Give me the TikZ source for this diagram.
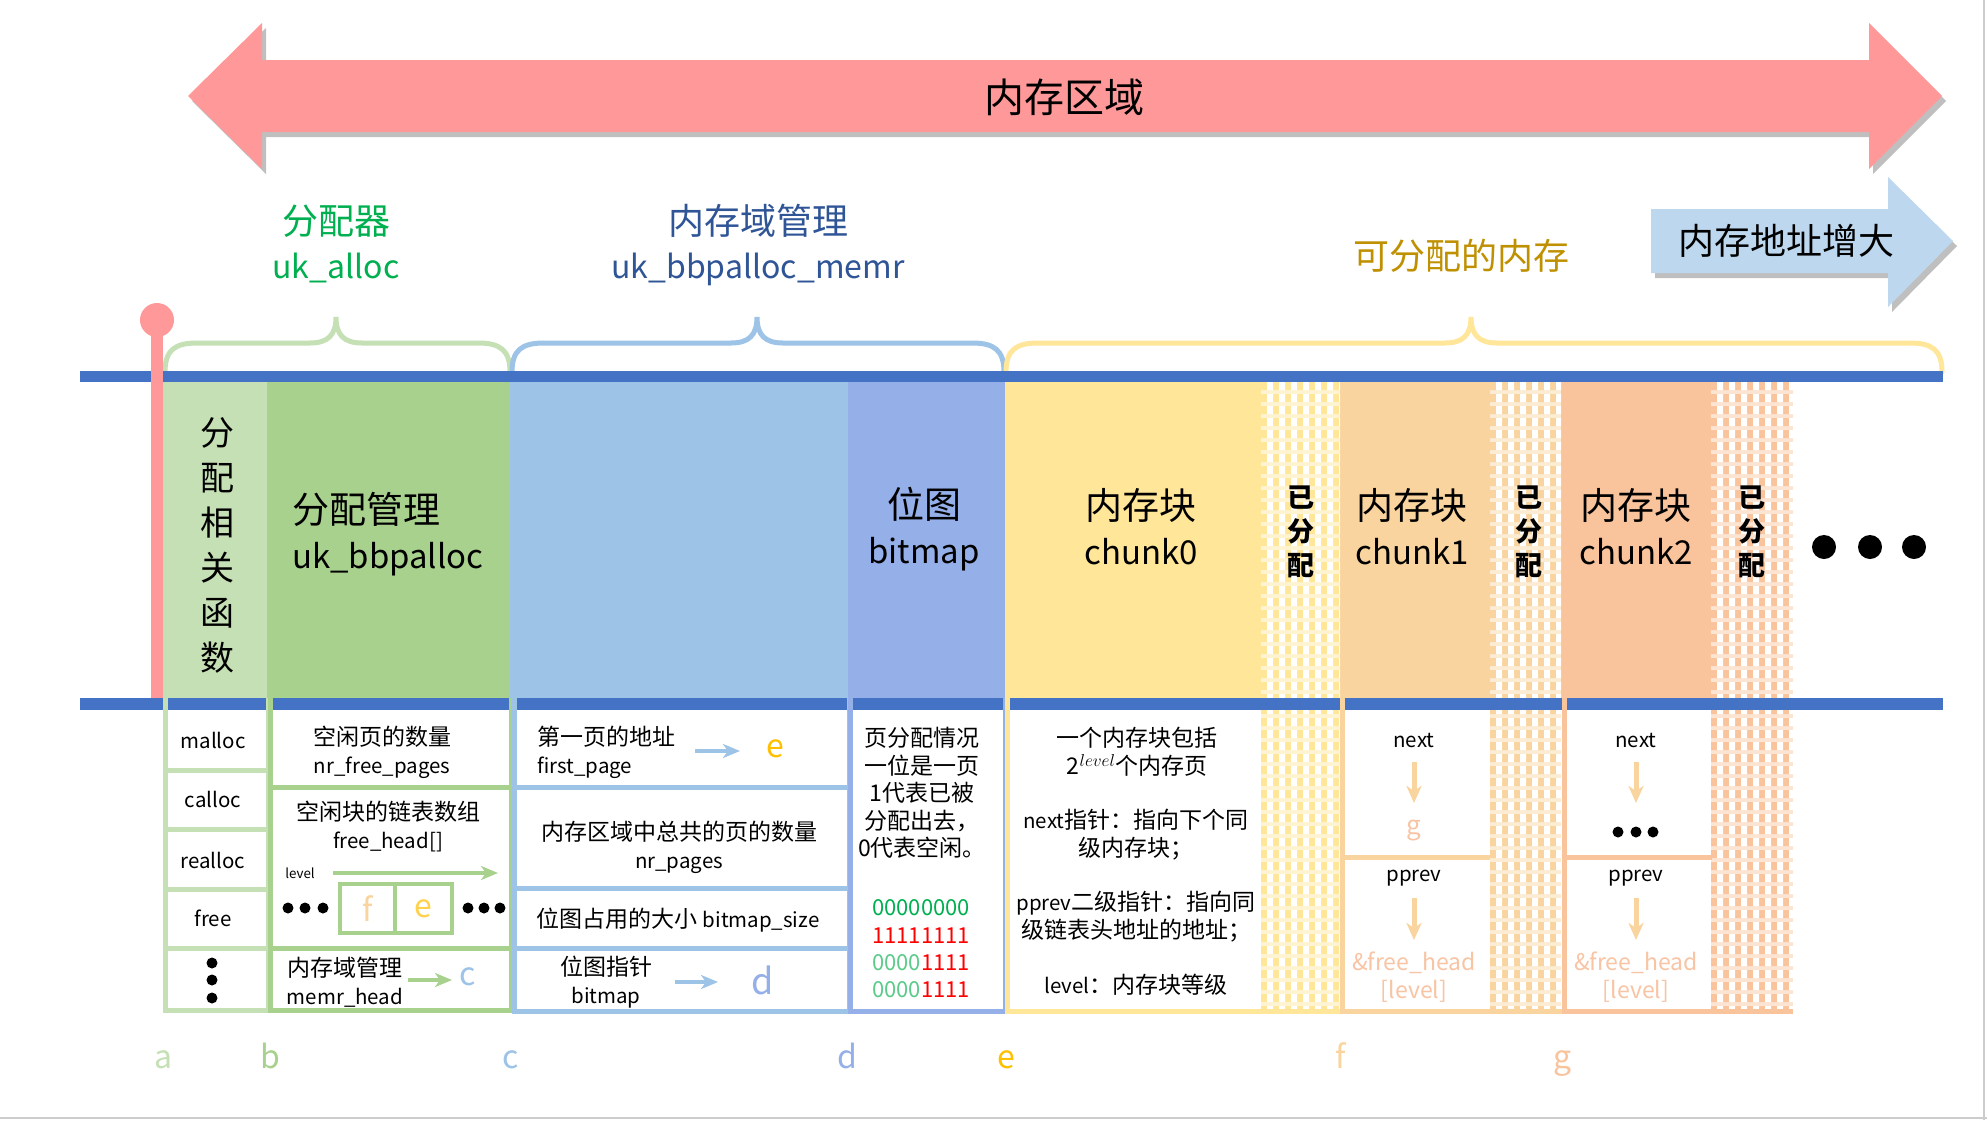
\documentclass[tikz,border=0pt]{standalone}
\usepackage{fontspec}
\setmainfont{Noto Sans CJK SC}
\newfontfamily\latfont[Scale=0.89]{Noto Sans CJK SC}
\newcommand{\latn}[1]{{\latfont #1}}
\usetikzlibrary{arrows.meta,shadows}
\definecolor{cA}{HTML}{C5E0B4}
\definecolor{cB}{HTML}{A9D18E}
\definecolor{cC}{HTML}{9DC3E6}
\definecolor{cD}{HTML}{95AFE8}
\definecolor{cE}{HTML}{FFE699}
\definecolor{cF}{HTML}{F9D49E}
\definecolor{cG}{HTML}{F9C39C}
\definecolor{barblue}{HTML}{4472C4}
\definecolor{pinkarrow}{HTML}{FF9999}
\definecolor{lblue}{HTML}{BDD7EE}
\definecolor{tgreen}{HTML}{00B050}
\definecolor{tblue}{HTML}{2F5597}
\definecolor{tgold}{HTML}{BF9000}
\definecolor{eyellow}{HTML}{FFC000}
\definecolor{boxe}{HTML}{FFD24D}
\definecolor{salmontext}{HTML}{F8C4A4}
\definecolor{bgreen}{HTML}{5BCB8A}
\newcommand{\checkstrip}[5]{%
  \begin{scope}
    \clip (#1,#3) rectangle (#2,#4);
    \fill[#5!45] (#1,#3) rectangle (#2,#4);
    \fill[#5] \foreach \i in {0,...,7}{\foreach \j in {0,...,53}{ ({#1+12*\i},{#3+12*\j}) rectangle ++(6,8) }};
    \fill[white] \foreach \i in {0,...,7}{\foreach \j in {0,...,53}{ ({#1+12*\i+6},{#3+12*\j}) rectangle ++(6,8) }};
  \end{scope}}
\begin{document}
\begin{tikzpicture}[x=1pt,y=-1pt,
  txt/.style={inner sep=0pt, align=center, font=\fontsize{23}{28}\selectfont},
  bigtxt/.style={inner sep=0pt, align=center, font=\fontsize{37}{45}\selectfont},
  vtxt/.style={inner sep=0pt, align=center, font=\fontsize{27}{34}\selectfont\bfseries},
  ltr/.style={inner sep=0pt, font=\fontsize{32}{38}\selectfont},
  garr/.style={draw=cB, line width=4, -{Stealth[length=17pt,width=14pt,inset=5pt]}},
  barr/.style={draw=cC, line width=4, -{Stealth[length=17pt,width=14pt,inset=5pt]}},
  oarr/.style={draw=cF, line width=5, -{Stealth[length=17pt,width=15pt,inset=5pt]}},
  brace/.style={line width=5, line cap=round},
  edge5/.style={line width=5},
  shad/.style={drop shadow={shadow xshift=4pt, shadow yshift=-5pt, opacity=0.25, fill=black}}
]
\useasboundingbox (0,0) rectangle (1987,1120);
\fill[white] (0,0) rectangle (1987,1120);
\draw[black!20, line width=2] (1984,0) -- (1984,1120) (0,1118) -- (1987,1118);

% big double arrow
\fill[pinkarrow, shad] (188,96) -- (262,23) -- (262,60) -- (1869,60) -- (1869,23) -- (1942,96)
  -- (1869,169) -- (1869,132) -- (262,132) -- (262,169) -- cycle;
\node[inner sep=0pt, font=\fontsize{40}{48}\selectfont] (title) at (1064,97) {内存区域};

% address arrow
\fill[lblue, shad] (1651,209) -- (1888,209) -- (1888,177) -- (1953,241) -- (1888,307) -- (1888,273) -- (1651,273) -- cycle;
\node[inner sep=0pt, font=\fontsize{36}{44}\selectfont] (addr) at (1786,241) {内存地址增大};

% group labels
\node[inner sep=0pt, align=center, text=tgreen, font=\fontsize{36}{44}\selectfont] (lalloc) at (336,244) {分配器\\\latn{uk\_alloc}};
\node[inner sep=0pt, align=center, text=tblue, font=\fontsize{36}{44}\selectfont] (lmemr) at (758,245) {内存域管理\\\latn{uk\_bbpalloc\_memr}};
\node[inner sep=0pt, text=tgold, font=\fontsize{36}{44}\selectfont] (lavail) at (1461,256) {可分配的内存};

% braces
\draw[cA, brace] (165,372) .. controls (165,350) and (175,343) .. (197,343) -- (310,343)
  .. controls (328,343) and (336,335) .. (336,317) .. controls (336,335) and (344,343) .. (362,343)
  -- (478,343) .. controls (500,343) and (510,350) .. (510,372);
\draw[cC, brace] (512,372) .. controls (512,350) and (522,343) .. (544,343) -- (731,343)
  .. controls (749,343) and (757,335) .. (757,317) .. controls (757,335) and (765,343) .. (783,343)
  -- (972,343) .. controls (994,343) and (1004,350) .. (1004,372);
\draw[cE, brace] (1006,372) .. controls (1006,350) and (1016,343) .. (1038,343) -- (1445,343)
  .. controls (1463,343) and (1471,335) .. (1471,317) .. controls (1471,335) and (1479,343) .. (1497,343)
  -- (1910,343) .. controls (1932,343) and (1942,350) .. (1942,372);

% top section fills
\fill[cA] (163,371) rectangle (267,698);
\fill[cB] (267,371) rectangle (510,698);
\fill[cC] (510,371) rectangle (848,698);
\fill[cD] (848,371) rectangle (1005,698);
\fill[cE] (1005,371) rectangle (1261,698);
\fill[cF] (1340,371) rectangle (1490,698);
\fill[cG] (1560,371) rectangle (1711,698);
\checkstrip{1261}{1340}{382}{1010}{cE}
\checkstrip{1490}{1561}{382}{1010}{cF}
\checkstrip{1711}{1793}{382}{1010}{cG}
\fill[white] (1010,712) rectangle (1261,1009);
\fill[white] (1345,712) rectangle (1490,1009);
\fill[white] (1567,712) rectangle (1711,1009);

% bars
\fill[barblue] (80,371) rectangle (1943,382);
\fill[barblue] (80,698) rectangle (1943,710);

% pink start line
\fill[pinkarrow] (151,320) rectangle (163,698);
\fill[pinkarrow] (157,320) circle (17);

% top labels
\node[inner sep=0pt, align=center, font=\fontsize{34}{45}\selectfont] (fn) at (217,545) {分\\配\\相\\关\\函\\数};
\node[bigtxt, align=left, anchor=west] (mgr) at (292,534) {分配管理\\\latn{uk\_bbpalloc}};
\node[bigtxt] (bmp) at (924,529) {位图\\\latn{bitmap}};
\node[bigtxt] (ch0) at (1141,527) {内存块\\\latn{chunk0}};
\node[bigtxt] (ch1) at (1412,527) {内存块\\\latn{chunk1}};
\node[bigtxt] (ch2) at (1636,527) {内存块\\\latn{chunk2}};
\node[vtxt] (al1) at (1301,532) {已\\分\\配};
\node[vtxt] (al2) at (1529,532) {已\\分\\配};
\node[vtxt] (al3) at (1752,532) {已\\分\\配};
\fill (1824,547) circle (12) (1870,547) circle (12) (1914,547) circle (12);

% bottom outlines
\draw[cA, edge5] (165.5,698) -- (165.5,1010) -- (268,1010) -- (268,698);
\draw[cA, edge5] (165.5,770) -- (268,770) (165.5,829) -- (268,829) (165.5,889) -- (268,889) (165.5,948) -- (268,948);
\draw[cB, edge5] (270,698) -- (270,1010) -- (511,1010) -- (511,698);
\draw[cB, edge5] (270,787) -- (511,787) (270,948) -- (511,948);
\draw[cC, edge5] (514,698) -- (514,1011) -- (849,1011) -- (849,698);
\draw[cC, edge5] (514,787) -- (849,787) (514,888) -- (849,888) (514,948) -- (849,948);
\draw[cD, edge5] (850.5,698) -- (850.5,1011) -- (1005,1011) -- (1005,698);
\draw[cE, edge5] (1007.5,698) -- (1007.5,1011) -- (1341,1011);
\draw[cF, edge5] (1342.5,698) -- (1342.5,1011) -- (1563,1011);
\draw[cF, edge5] (1342.5,857) -- (1490,857);
\draw[cG, edge5] (1564,698) -- (1564,1011) -- (1793,1011);
\draw[cG, edge5] (1564,857) -- (1712,857);

% column 1
\node[txt] (malloc) at (213,740) {\latn{malloc}};
\node[txt] (calloc) at (213,799) {\latn{calloc}};
\node[txt] (realloc) at (213,860) {\latn{realloc}};
\node[txt] (free) at (213,918) {\latn{free}};
\fill (212,963) circle (5.5) (212,980) circle (5.5) (212,998) circle (5.5);

% column 2
\node[txt] (nfree) at (382,752) {空闲页的数量\\\latn{nr\_free\_pages}};
\node[txt] (fhead) at (388,826) {空闲块的链表数组\\\latn{free\_head[]}};
\node[inner sep=0pt, font=\fontsize{15}{18}\selectfont] (lvl) at (300,873) {\latn{level}};
\coordinate (lvlA) at (333,873);
\coordinate (lvlB) at (498,873);
\draw[garr] (lvlA) -- (lvlB);
\fill (288,908) circle (5.5) (305,908) circle (5.5) (323,908) circle (5.5);
\node[draw=cB, line width=4, minimum width=55pt, minimum height=49pt, inner sep=0pt, text=cF, font=\fontsize{32}{38}\selectfont] (fbox) at (367.5,908.5) {f};
\node[draw=cB, line width=4, minimum width=57pt, minimum height=49pt, inner sep=0pt, text=boxe, font=\fontsize{32}{38}\selectfont] (ebox) at (423.5,908.5) {e};
\fill (468,908) circle (5.5) (484,908) circle (5.5) (500,908) circle (5.5);
\node[txt] (mhead) at (345,982) {内存域管理\\\latn{memr\_head}};
\coordinate (mA) at (408,980);
\coordinate (mB) at (452,980);
\node[ltr, text=cC] (cref) at (468,977) {c};
\draw[garr] (mA) -- (mB);

% column 3
\node[txt, align=left, anchor=west] (fpage) at (537,752) {第一页的地址\\\latn{first\_page}};
\node[ltr, text=eyellow] (eref) at (775,749) {e};
\coordinate (fA) at (695,751);
\coordinate (fB) at (740,751);
\draw[barr] (fA) -- (fB);
\node[txt] (npages) at (679,847) {内存区域中总共的页的数量\\\latn{nr\_pages}};
\node[txt] (bsize) at (678,920) {位图占用的大小 \latn{bitmap\_size}};
\node[txt] (bptr) at (606,982) {位图指针\\\latn{bitmap}};
\node[inner sep=0pt, text=cD, font=\fontsize{36}{40}\selectfont] (dref) at (763,980) {d};
\coordinate (bA) at (675,982);
\coordinate (bB) at (718,982);
\draw[barr] (bA) -- (bB);

% column 4
\node[inner sep=0pt, align=center, font=\fontsize{23}{27.5}\selectfont] (pinfo) at (922,793)
  {页分配情况\\一位是一页\\1代表已被\\分配出去，\\0代表空闲。};
\node[inner sep=0pt, align=center, font=\fontsize{22}{27.3}\selectfont] (bins) at (921,949)
  {{\color{tgreen}00000000}\\{\color{red}11111111}\\{\color{bgreen}0000}{\color{red}1111}\\{\color{bgreen}0000}{\color{red}1111}};

% column 5
\node[txt] (q1) at (1137,752) {一个内存块包括\\2\raisebox{8pt}{\fontsize{17}{17}\selectfont$level$}个内存页};
\node[txt] (q2) at (1136,835) {\latn{next}指针：指向下个同\\级内存块；};
\node[txt] (q3) at (1136,917) {\latn{pprev}二级指针：指向同\\级链表头地址的地址；};
\node[txt] (q4) at (1136,985) {\latn{level}：内存块等级};

% chunk1
\node[txt] (n1) at (1414,740) {\latn{next}};
\node[inner sep=0pt, text=salmontext, font=\fontsize{26}{30}\selectfont] (g1) at (1414,830) {g};
\coordinate (n1a) at (1414,762);
\coordinate (n1b) at (1414,803);
\draw[oarr] (n1a) -- (n1b);
\node[txt] (p1) at (1414,878) {\latn{pprev}};
\node[txt, text=salmontext] (h1) at (1414,977) {\&free\_head\\{}[level]};
\coordinate (p1a) at (1414,898);
\coordinate (p1b) at (1414,940);
\draw[oarr] (p1a) -- (p1b);

% chunk2
\node[txt] (n2) at (1636,740) {\latn{next}};
\coordinate (n2a) at (1636,762);
\coordinate (n2b) at (1636,803);
\draw[oarr] (n2a) -- (n2b);
\fill (1618,832) circle (5.5) (1636,832) circle (5.5) (1653,832) circle (5.5);
\node[txt] (p2) at (1636,878) {\latn{pprev}};
\node[txt, text=salmontext] (h2) at (1636,977) {\&free\_head\\{}[level]};
\coordinate (p2a) at (1636,898);
\coordinate (p2b) at (1636,940);
\draw[oarr] (p2a) -- (p2b);

% address letters
\node[ltr, anchor=base, text=cA] (la) at (164,1068) {a};
\node[ltr, anchor=base, text=cB] (lb) at (270,1068) {b};
\node[ltr, anchor=base, text=cC] (lc) at (511,1068) {c};
\node[ltr, anchor=base, text=cD] (ld) at (847,1068) {d};
\node[ltr, anchor=base, text=eyellow] (le) at (1006,1068) {e};
\node[ltr, anchor=base, text=cF] (lf) at (1341,1068) {f};
\node[ltr, anchor=base, text=cG] (lg) at (1563,1068) {g};
\end{tikzpicture}
\end{document}
